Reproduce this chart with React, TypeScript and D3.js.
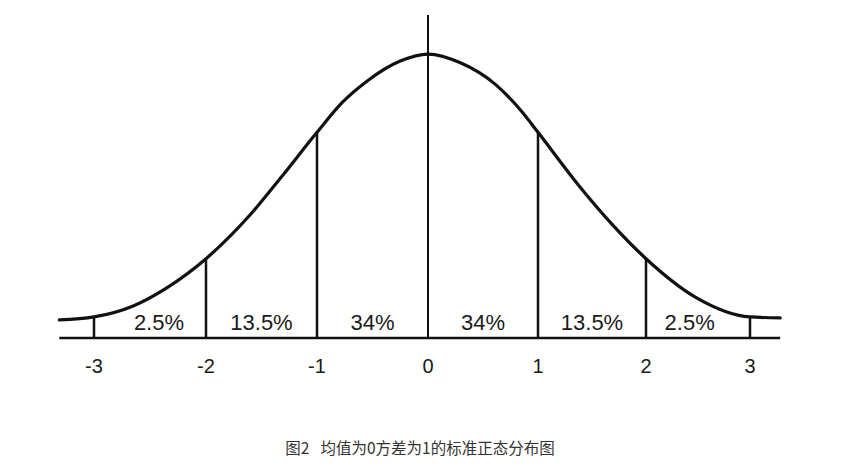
import * as d3 from "d3";

// standard deviation marks along the axis
const zTicks = [-3, -2, -1, 0, 1, 2, 3];
const tickLabels = ["-3", "-2", "-1", "0", "1", "2", "3"];

// curve (z, density)
const curveZ = [-3.31, -3, -2.65, -2.35, -2, -1.6, -1.31, -1, -0.77, -0.55, -0.25, 0, 0.3, 0.61, 0.85, 1, 1.37, 1.68, 2, 2.47, 3, 3.29];
const curveDensity = [0.0254, 0.0297, 0.0452, 0.0707, 0.1117, 0.1739, 0.229, 0.2898, 0.3322, 0.3618, 0.3901, 0.4, 0.3873, 0.3576, 0.3194, 0.2898, 0.2163, 0.1611, 0.1117, 0.058, 0.0297, 0.0283];

// vertical dividers: top of each line (the mean line sticks out above the curve)
const dividerTops = [0.0297, 0.1117, 0.2898, 0.455, 0.2898, 0.1117, 0.0297];

// area labels between dividers
const bandCenters = [-2.42, -1.5, -0.5, 0.5, 1.5, 2.42];
const bandLabels = ["2.5%", "13.5%", "34%", "34%", "13.5%", "2.5%"];

const captionHead = "图2";
const captionBody = "均值为0方差为1的标准正态分布图";

const W = 849;
const H = 471;

export default function App() {
  // the scanned figure is not perfectly even, so the scale is piecewise
  const x = d3.scaleLinear().domain(zTicks).range([94, 206, 317, 428, 538, 646, 750]);
  const y = d3.scaleLinear().domain([0, 0.455]).range([338, 15]);

  const pts = curveZ.map((z, i) => [z, curveDensity[i]] as [number, number]);
  const line = d3
    .line<[number, number]>()
    .x((d) => x(d[0]))
    .y((d) => y(d[1]))
    .curve(d3.curveMonotoneX);

  const x0 = x(curveZ[0]);
  const x1 = x(curveZ[curveZ.length - 1]);

  return (
    <svg
      width={W}
      height={H}
      style={{ position: "absolute", left: 0, top: 0, background: "#fff" }}
    >
      {/* baseline */}
      <line x1={x0} x2={x1} y1={y(0)} y2={y(0)} stroke="#111" strokeWidth={2.5} />

      {/* dividers */}
      {zTicks.map((z, i) => (
        <line
          key={"d" + z}
          x1={x(z)}
          x2={x(z)}
          y1={y(0)}
          y2={y(dividerTops[i])}
          stroke="#111"
          strokeWidth={z === 0 ? 2 : 2.5}
        />
      ))}

      {/* curve */}
      <path d={line(pts) ?? ""} fill="none" stroke="#111" strokeWidth={3.2} strokeLinecap="round" />

      {/* percentages */}
      {bandLabels.map((t, i) => (
        <text
          key={"b" + i}
          x={x(bandCenters[i])}
          y={329.5}
          textAnchor="middle"
          fontFamily="Liberation Sans, Arial, sans-serif"
          fontSize={22}
          fill="#1a1a1a"
        >
          {t}
        </text>
      ))}

      {/* tick labels */}
      {zTicks.map((z, i) => (
        <text
          key={"t" + z}
          x={x(z)}
          y={373}
          textAnchor="middle"
          fontFamily="Liberation Sans, Arial, sans-serif"
          fontSize={20}
          fill="#1a1a1a"
        >
          {tickLabels[i]}
        </text>
      ))}

      <text
        x={420}
        y={454}
        textAnchor="middle"
        fontFamily="Noto Sans CJK SC, sans-serif"
        fontSize={15.5}
        fill="#333"
      >
        <tspan>{captionHead}</tspan>
        <tspan dx={11}>{captionBody}</tspan>
      </text>
    </svg>
  );
}
